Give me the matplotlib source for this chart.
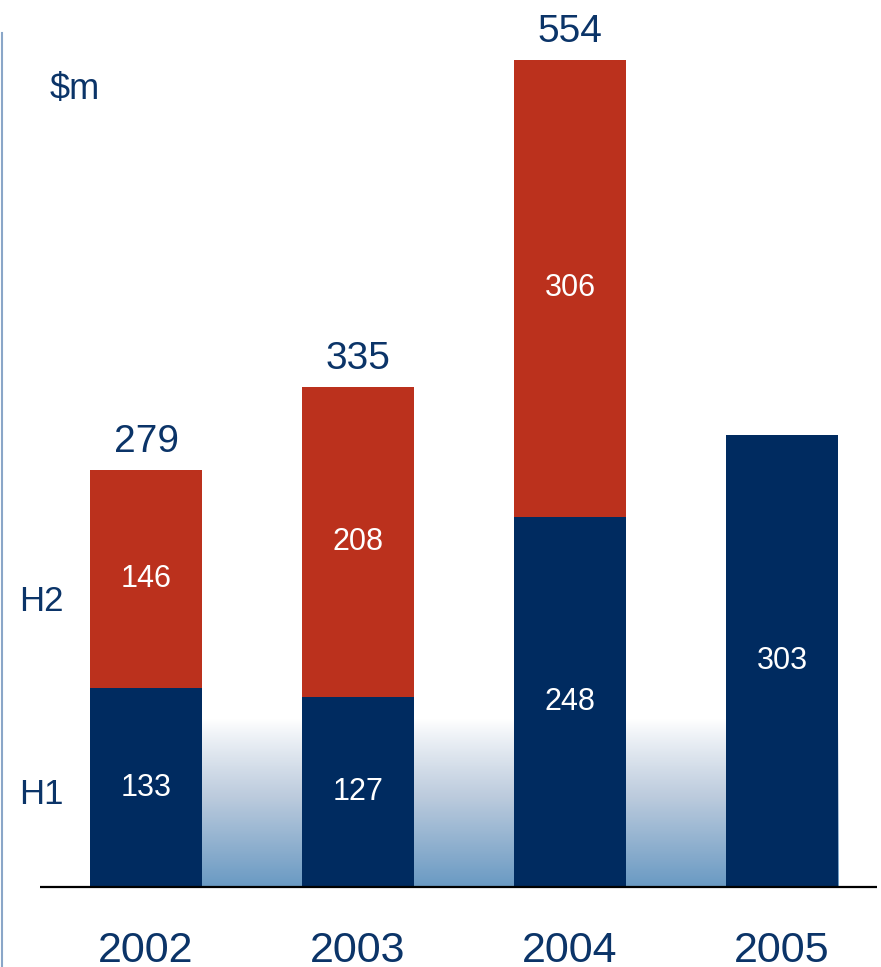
import numpy as np
import matplotlib.pyplot as plt
from matplotlib.colors import LinearSegmentedColormap
from matplotlib.lines import Line2D

plt.rcParams['font.family'] = ['Liberation Sans', 'DejaVu Sans']

years = ['2002', '2003', '2004', '2005']
h1 = [133, 127, 248, 303]
h2 = [146, 208, 306, 0]
totals = [279, 335, 554, None]

navy = '#002b60'
red = '#bb311d'
text_c = '#0b3468'

W, H = 881, 967
fig = plt.figure(figsize=(W / 100, H / 100), dpi=100)
ax = fig.add_axes([0, 0, 1, 1])

# pixel layout: baseline at 887 px, 1.493 px per $m, bars 212 px apart
px_per = 1.493
base_px = 887
step = 212
x0_px = 146
ax.set_ylim(-(H - base_px) / px_per, base_px / px_per)
ax.set_xlim(-x0_px / step, 3 + (W - (x0_px + 3 * step)) / step)
ax.axis('off')

x = np.arange(len(years))
width = 112 / step

# soft blue fade behind the bars (white at top, steel blue at the baseline)
cmap = LinearSegmentedColormap.from_list('fade', ['#ffffff', '#bccbdd', '#6a9ac3'])
grad = np.linspace(0, 1, 256).reshape(-1, 1) ** 0.9
ax.imshow(grad, cmap=cmap, aspect='auto', vmin=0, vmax=1, origin='upper',
          extent=[x[0] - width / 2, x[-1] + width / 2, 0, 112], zorder=0)

ax.bar(x, h1, width, color=navy, zorder=2)
ax.bar(x, h2, width, bottom=h1, color=red, zorder=2)

for i in x:
    ax.text(i, h1[i] / 2, str(h1[i]), ha='center', va='center',
            color='white', fontsize=22, zorder=3)
    if h2[i]:
        ax.text(i, h1[i] + h2[i] / 2, str(h2[i]), ha='center', va='center',
                color='white', fontsize=22, zorder=3)
    if totals[i]:
        ax.annotate(str(totals[i]), (i, h1[i] + h2[i]), xytext=(0, 13),
                    textcoords='offset points', ha='center', va='baseline',
                    color=text_c, fontsize=28)
    ax.annotate(years[i], (i, 0), xytext=(0, -54), textcoords='offset points',
                ha='center', va='baseline', color=text_c, fontsize=31)

# baseline
ax.plot([(40 - x0_px) / step, (877 - x0_px) / step], [0, 0],
        color='black', lw=1.6, zorder=4, solid_capstyle='butt')

# row labels and unit
ax.text((19 - x0_px) / step, 62, 'H1', ha='left', va='center',
        color=text_c, fontsize=25)
ax.text((19 - x0_px) / step, 191, 'H2', ha='left', va='center',
        color=text_c, fontsize=25)
ax.text((50 - x0_px) / step, (base_px - 89) / px_per, '$m', ha='left',
        va='center', color=text_c, fontsize=26)

# thin rule down the left edge
fig.add_artist(Line2D([1.5 / W, 1.5 / W], [0, 1 - 33 / H],
                      color='#8aa6c8', lw=1.5))

fig.savefig('out.png', dpi=100)
